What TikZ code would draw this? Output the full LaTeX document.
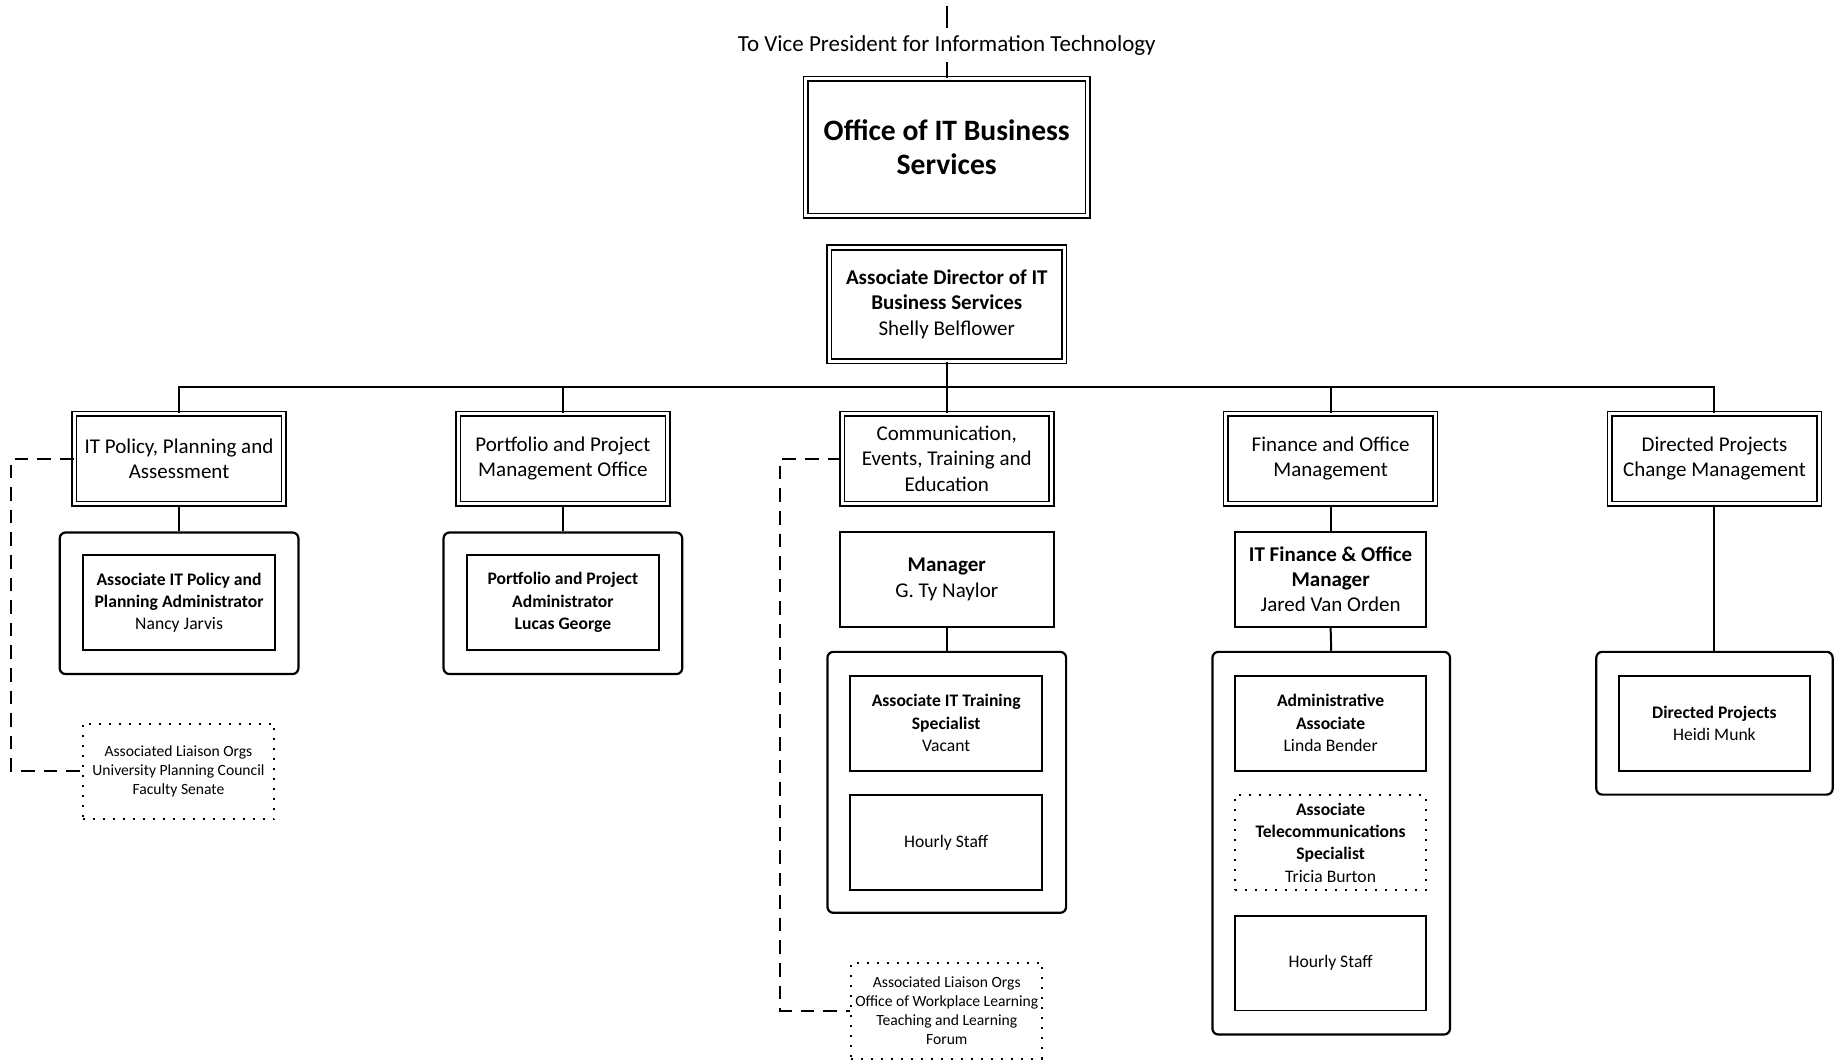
\documentclass[tikz,border=0pt]{standalone}
\usepackage{fontspec}
\setmainfont{Carlito}

\begin{document}
\begin{tikzpicture}[x=0.585pt,y=-0.585pt,
  box/.style={draw,line width=0.9pt,align=center,inner sep=1pt},
  dbox/.style={box,double,double distance=1.5pt,line width=0.8pt},
  grp/.style={draw,rounded corners=3pt,line width=1.1pt},
  dotbox/.style={draw,line width=1pt,dash pattern=on 1pt off 4pt,align=center,inner sep=1pt},
  boxsize/.style 2 args={minimum width=#1*0.585pt,minimum height=#2*0.585pt},
  link/.style={line width=1pt},
  dashlink/.style={line width=1pt,dash pattern=on 6.8pt off 4.5pt},
  txtvp/.style={font=\fontsize{11.5}{14}\selectfont},
  txtbig/.style={font=\fontsize{14.8}{17}\selectfont\bfseries},
  txtmid/.style={font=\fontsize{10.5}{12.6}\selectfont},
  txtsmall/.style={font=\fontsize{8.8}{11.2}\selectfont},
  txttiny/.style={font=\fontsize{7.8}{9.6}\selectfont}]

\useasboundingbox (0,0) rectangle (1568,905);

% === Top of the chart ===
\coordinate (top) at (809,5);
\node[txtvp] (vp) at (809,38.5) {To Vice President for Information Technology};
\node[dbox,boxsize={241}{117},txtbig] (obs) at (809,126) {Office of IT Business\\Services};
\node[dbox,boxsize={201}{97},txtmid] (adir) at (809,260)
  {\textbf{Associate Director of IT}\\\textbf{Business Services}\\Shelly Belflower};

\draw[link] (top) -- (vp.north);
\draw[link] (vp.south) -- (obs.north);

% === Units ===
\node[dbox,boxsize={179}{77},txtmid] (pol) at (153,392) {IT Policy, Planning and\\Assessment};
\node[dbox,boxsize={179}{77},txtmid] (ppm) at (481,392) {Portfolio and Project\\Management Office};
\node[dbox,boxsize={179}{77},txtmid] (cet) at (809,392) {Communication,\\Events, Training and\\Education};
\node[dbox,boxsize={179}{77},txtmid] (fom) at (1137,392) {Finance and Office\\Management};
\node[dbox,boxsize={179}{77},txtmid] (dpc) at (1465,392) {Directed Projects\\Change Management};

\coordinate (bus) at (809,331);
\draw[link] (adir.south) -- (bus);
\foreach \n in {pol,ppm,cet,fom,dpc}
  \draw[link] (bus) -| (\n.north);

% === IT Policy ===
\node[grp,boxsize={204}{121}] (polgrp) at (153,515.5) {};
\node[box,boxsize={164}{81},txtsmall] (nj) at (153,515)
  {\textbf{Associate IT Policy and}\\\textbf{Planning Administrator}\\Nancy Jarvis};
\draw[link] (pol.south) -- (polgrp.north);

\node[dotbox,boxsize={164}{81},txttiny] (lia1) at (152.5,659)
  {Associated Liaison Orgs\\University Planning Council\\Faculty Senate};
\draw[dashlink] (pol.west) -- ++(-53,0) |- (lia1.west);

% === Portfolio ===
\node[grp,boxsize={204}{121}] (ppmgrp) at (481,515.5) {};
\node[box,boxsize={164}{81},txtsmall] (lg) at (481,515)
  {\textbf{Portfolio and Project}\\\textbf{Administrator}\\\textbf{Lucas George}};
\draw[link] (ppm.south) -- (ppmgrp.north);

% === Communication ===
\node[box,boxsize={183}{81},txtmid] (gtn) at (809,495) {\textbf{Manager}\\G. Ty Naylor};
\node[grp,boxsize={204}{223}] (cetgrp) at (809,668.5) {};
\node[box,boxsize={164}{81},txtsmall] (vac) at (808.5,618)
  {\textbf{Associate IT Training}\\\textbf{Specialist}\\Vacant};
\node[box,boxsize={164}{81},txtsmall] (hs1) at (808.5,720) {Hourly Staff};
\draw[link] (gtn.south) -- (cetgrp.north);

\node[dotbox,boxsize={163}{82},txttiny] (lia2) at (809,863.5)
  {Associated Liaison Orgs\\Office of Workplace Learning\\Teaching and Learning\\Forum};
\draw[dashlink] (cet.west) -- ++(-52,0) |- (lia2.west);

% === Finance ===
\node[box,boxsize={163}{81},txtmid] (jvo) at (1137,495)
  {\textbf{IT Finance \& Office}\\\textbf{Manager}\\Jared Van Orden};
\node[grp,boxsize={203}{327}] (fomgrp) at (1137.5,720.5) {};
\node[box,boxsize={163}{81},txtsmall] (lb) at (1137,618)
  {\textbf{Administrative}\\\textbf{Associate}\\Linda Bender};
\node[dotbox,boxsize={163}{81},txtsmall] (tb) at (1137,720)
  {\textbf{Associate}\\\textbf{Telecommunications}\\\textbf{Specialist}\\Tricia Burton};
\node[box,boxsize={163}{81},txtsmall] (hs2) at (1137,823) {Hourly Staff};
\draw[link] (fom.south) -- (jvo.north);
\draw[link] (jvo.south) -- (fomgrp.north);

% === Directed Projects ===
\node[grp,boxsize={202}{122}] (dpcgrp) at (1465,618) {};
\node[box,boxsize={163}{81},txtsmall] (hm) at (1465,618) {\textbf{Directed Projects}\\Heidi Munk};
\draw[link] (dpc.south) -- (dpcgrp.north);

\end{tikzpicture}
\end{document}
